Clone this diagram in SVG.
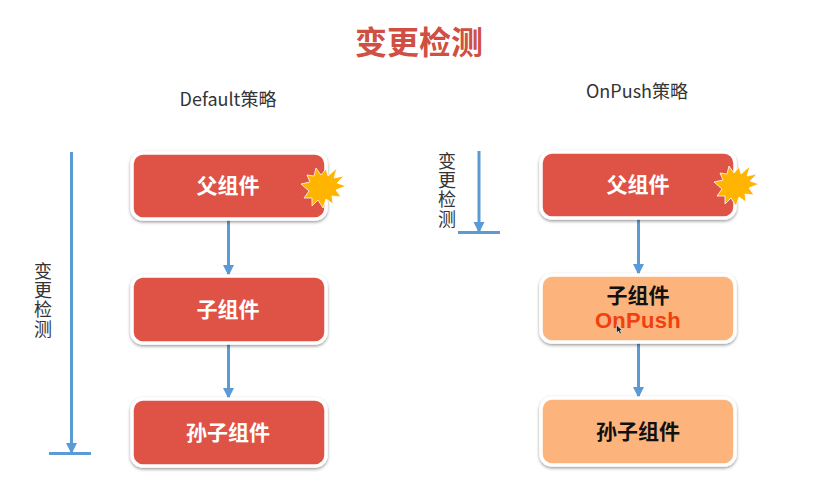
<svg xmlns="http://www.w3.org/2000/svg" width="832" height="502" viewBox="0 0 832 502">
<style>
text{font-family:"Noto Sans CJK SC","Liberation Sans",sans-serif;text-anchor:middle}
.lbl{font-size:21px;font-weight:700;fill:#fff}
.blk{font-size:21px;font-weight:700;fill:#111}
.hd{font-size:18px;fill:#333}
.v{font-size:18px;fill:#333;writing-mode:vertical-rl;letter-spacing:1.300px;text-anchor:start}
.box{stroke:#fff;stroke-width:3.5;filter:url(#sh)}
.red{fill:#df5246}.org{fill:#fdb47b}
.ln{stroke:#5b9bd5;stroke-width:3;fill:none}
.star{fill:#ffb400;stroke:#fff;stroke-width:.8}
</style>
<defs>
<filter id="sh" x="-10%" y="-20%" width="120%" height="140%"><feDropShadow dx="0" dy="1.500" stdDeviation="1.500" flood-color="#000" flood-opacity=".4"/></filter>
<marker id="ah" markerUnits="userSpaceOnUse" markerWidth="11" markerHeight="12" refX="10" refY="6" orient="auto"><path d="M0 0.500L11 6L0 11.500Z" fill="#5b9bd5"/></marker>
<polygon id="burst" points="-7,-19 -2,-12 3,-18 5,-11 14,-19 11,-9 21,-11 14,-4 23,-1 13,3 18,10 9,9 10,17 3,12 0,21 -5,13 -11,19 -11,11 -19,11 -14,4 -22,-3 -13,-5 -16,-12 -9,-11"/>
</defs>
<rect width="832" height="502" fill="#fff"/>
<text x="419" y="54" style="font-size:32px;font-weight:700;fill:#cf4f43">变更检测</text>
<text class="hd" x="228" y="106">Default策略</text>
<text class="hd" x="637" y="98">OnPush策略</text>
<g id="connectors">
<path class="ln" marker-end="url(#ah)" d="M228.500 219V275"/>
<path class="ln" marker-end="url(#ah)" d="M228.500 342V398"/>
<path class="ln" marker-end="url(#ah)" d="M638.500 218V274"/>
<path class="ln" marker-end="url(#ah)" d="M638.500 342V397"/>
<path class="ln" marker-end="url(#ah)" d="M71.500 152V453"/>
<path class="ln" d="M49 453.500H91"/>
<path class="ln" marker-end="url(#ah)" d="M479 151V232"/>
<path class="ln" d="M458 232.500H500"/>
</g>
<g id="left-change"><text class="v" x="43" y="262">变更检测</text></g>
<g id="right-change"><text class="v" x="447" y="152">变更检测</text></g>
<g id="n1"><rect class="box red" x="132" y="153" width="194" height="66" rx="11"/><text class="lbl" x="228" y="193">父组件</text><use href="#burst" class="star" x="323" y="187"/></g>
<g id="n2"><rect class="box red" x="132" y="276" width="194" height="67" rx="11"/><text class="lbl" x="228" y="317">子组件</text></g>
<g id="n3"><rect class="box red" x="132" y="399" width="194" height="67" rx="11"/><text class="lbl" x="228" y="440">孙子组件</text></g>
<g id="n4"><rect class="box red" x="541" y="152" width="194" height="66" rx="11"/><text class="lbl" x="638" y="192">父组件</text><use href="#burst" class="star" x="736" y="185"/></g>
<g id="n5"><rect class="box org" x="541" y="275" width="194" height="67" rx="11"/><text class="blk" x="638" y="303">子组件</text><text x="638" y="328" style="font-family:'Liberation Sans',sans-serif;font-size:22px;font-weight:700;fill:#f0400f;letter-spacing:.3px">OnPush</text><path d="M616.500 325l0 8 2-2 1.500 3 1.500-.7-1.500-2.800 2.500 0z" fill="#222" stroke="#fff" stroke-width=".5"/></g>
<g id="n6"><rect class="box org" x="541" y="398" width="194" height="67" rx="11"/><text class="blk" x="638" y="439">孙子组件</text></g>
</svg>
